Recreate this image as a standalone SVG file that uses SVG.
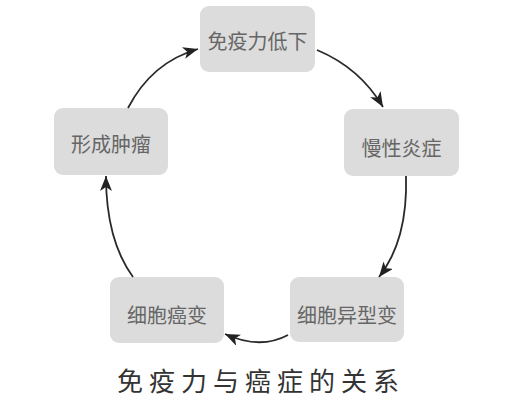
<svg xmlns="http://www.w3.org/2000/svg" width="508" height="400" viewBox="0 0 508 400">
<style>
.box{fill:#dcdcdc;}
.lbl{font-family:"Noto Sans CJK SC","Noto Sans",sans-serif;font-size:20px;fill:#666;text-anchor:middle;dominant-baseline:central;}
.cap{font-family:"Noto Sans CJK SC","Noto Sans",sans-serif;font-size:26px;fill:#333;letter-spacing:6px;}
.edge{fill:none;stroke:#2a2a2a;stroke-width:1.8;marker-end:url(#ah);}
</style>
<defs>
<marker id="ah" markerUnits="userSpaceOnUse" markerWidth="16" markerHeight="12" refX="15" refY="6" orient="auto">
<path d="M0,0 L15,6 L0,12 L4,6 z" fill="#222"/>
</marker>
</defs>
<rect width="508" height="400" fill="#fff"/>
<g id="n1"><rect class="box" x="200" y="6" width="115" height="66" rx="9"/><text class="lbl" x="257.5" y="40">免疫力低下</text></g>
<g id="n2"><rect class="box" x="344" y="109" width="115" height="67" rx="9"/><text class="lbl" x="401.5" y="147">慢性炎症</text></g>
<g id="n3"><rect class="box" x="290" y="277" width="114" height="65" rx="9"/><text class="lbl" x="347" y="314">细胞异型变</text></g>
<g id="n4"><rect class="box" x="110" y="277" width="114" height="66" rx="9"/><text class="lbl" x="167" y="314">细胞癌变</text></g>
<g id="n5"><rect class="box" x="54" y="108" width="114" height="67" rx="9"/><text class="lbl" x="111" y="143">形成肿瘤</text></g>
<g id="edges">
<path class="edge" d="M317,50 Q360,68 383,107"/>
<path class="edge" d="M406,176 Q408,240 379,277"/>
<path class="edge" d="M288,335 Q260,350 225,334"/>
<path class="edge" d="M133,277 Q106,240 106,176"/>
<path class="edge" d="M128,108 Q152,62 198,49"/>
</g>
<text class="cap" x="117" y="391">免疫力与癌症的关系</text>
</svg>
